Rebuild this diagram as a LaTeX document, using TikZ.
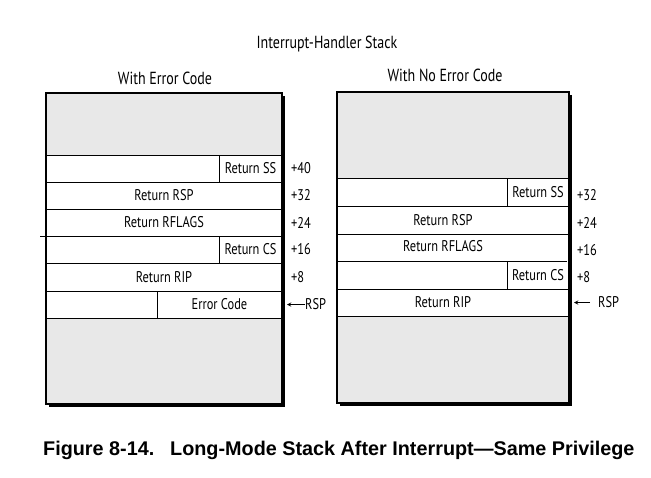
\documentclass[tikz,border=0pt]{standalone}
\usepackage{fontspec}
\setmainfont{PT Sans}[FakeStretch=0.8]
\newfontfamily\capfont{Liberation Sans}
\definecolor{stackgray}{RGB}{232,232,232}
\tikzset{
  frame/.style={line width=1.4pt},
  cell/.style={line width=0.8pt},
  lbl/.style={inner sep=0pt, font=\fontsize{15.5}{17}\selectfont},
  head/.style={inner sep=0pt, font=\fontsize{17.5}{20}\selectfont},
  ofs/.style={lbl, anchor=west},
  figcap/.style={inner sep=0pt, anchor=west, font=\capfont\bfseries\fontsize{19.8}{22}\selectfont},
}
\begin{document}
\begin{tikzpicture}[x=1pt, y=-1pt, >=stealth]
  \useasboundingbox[fill=white] (0,0) rectangle (651,477);
  % titles
  \node[head] (title) at (327,44) {Interrupt-Handler Stack};
  \node[head] (titleL) at (165,78) {With Error Code};
  \node[head] (titleR) at (445,75) {With No Error Code};
  % left stack
  \coordinate (LA) at (46,93);
  \coordinate (LB) at (282,404);
  \fill (49,96) rectangle (285,407);
  \fill[stackgray] (46,93) rectangle (282,155);
  \fill[white] (46,155) rectangle (282,318);
  \fill[stackgray] (46,318) rectangle (282,404);
  \draw[cell] (46,155) -- (282,155) (46,182) -- (282,182) (46,209) -- (282,209)
    (46,236) -- (282,236) (46,263) -- (282,263) (46,291) -- (282,291) (46,318) -- (282,318);
  \draw[cell] (219,155) -- (219,182) (219,236) -- (219,263) (157,291) -- (157,318);
  \draw[cell] (40,236) -- (46,236);
  \draw[frame] (LA) rectangle (LB);
  \node[lbl] (lss) at (250.5,168.5) {Return SS};
  \node[lbl] (lrsp) at (164,195.5) {Return RSP};
  \node[lbl] (lfl) at (164,222.5) {Return RFLAGS};
  \node[lbl] (lcs) at (250.5,249.5) {Return CS};
  \node[lbl] (lrip) at (164,277) {Return RIP};
  \node[lbl] (lerr) at (219.5,304.5) {Error Code};
  \node[ofs] (l40) at (291,168.5) {+40};
  \node[ofs] (l32) at (291,195.5) {+32};
  \node[ofs] (l24) at (291,222.5) {+24};
  \node[ofs] (l16) at (291,249.5) {+16};
  \node[ofs] (l8) at (291,277) {+8};
  \node[ofs] (lrspp) at (305,304.5) {RSP};
  \coordinate (lptr) at (287,304.5);
  \draw[->, line width=0.9pt] (lrspp.west) -- (lptr);
  % right stack
  \coordinate (RA) at (337,92);
  \coordinate (RB) at (569,403);
  \fill (340,95) rectangle (572,406);
  \fill[stackgray] (337,92) rectangle (569,178);
  \fill[white] (337,178) rectangle (569,316);
  \fill[stackgray] (337,316) rectangle (569,403);
  \draw[cell] (337,178) -- (569,178) (337,206) -- (569,206) (337,234) -- (569,234)
    (337,261) -- (567,261) (337,289) -- (569,289) (337,316) -- (569,316);
  \draw[cell] (507,178) -- (507,206) (507,261) -- (507,289);
  \draw[frame] (RA) rectangle (RB);
  \node[lbl] (rss) at (538,192) {Return SS};
  \node[lbl] (rrsp) at (443,220) {Return RSP};
  \node[lbl] (rfl) at (443,246.5) {Return RFLAGS};
  \node[lbl] (rcs) at (538,275) {Return CS};
  \node[lbl] (rrip) at (443,302.5) {Return RIP};
  \node[ofs] (r32) at (577,195.5) {+32};
  \node[ofs] (r24) at (577,223) {+24};
  \node[ofs] (r16) at (577,250.5) {+16};
  \node[ofs] (r8) at (577,277) {+8};
  \node[ofs] (rrspp) at (598,302.5) {RSP};
  \coordinate (rptr) at (574,302.5);
  \draw[->, line width=0.9pt] ([xshift=-8pt]rrspp.west) -- (rptr);
  % caption
  \node[figcap] (capnum) at (43,450) {Figure 8-14.};
  \node[figcap] (captext) at (170,450) {Long-Mode Stack After Interrupt—Same Privilege};
\end{tikzpicture}
\end{document}
